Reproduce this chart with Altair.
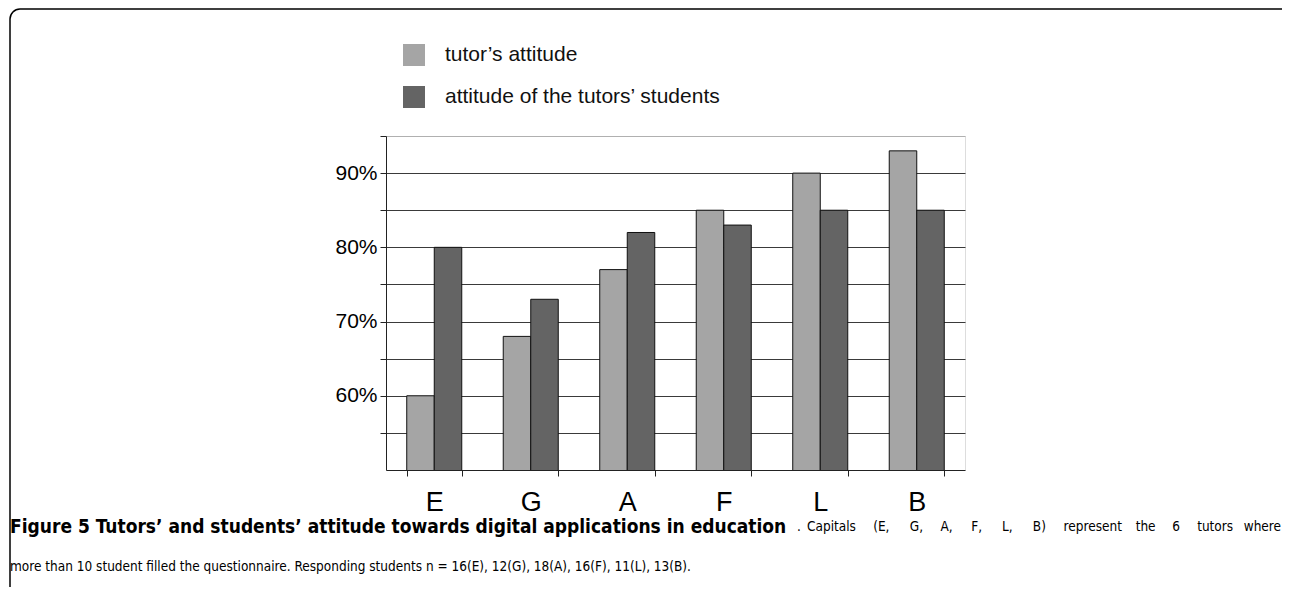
import altair as alt
import pandas as pd

tutors = ["E", "G", "A", "F", "L", "B"]
series_names = ["tutor\u2019s attitude", "attitude of the tutors\u2019 students"]
tutor_values = [60, 68, 77, 85, 90, 93]
student_values = [80, 73, 82, 83, 85, 85]
y_ticks = [55, 60, 65, 70, 75, 80, 85, 90, 95]

caption_bold = "Figure 5 Tutors\u2019 and students\u2019 attitude towards digital applications in education"
caption_rest1 = "Capitals (E, G, A, F, L, B) represent the 6 tutors where"
caption_line2 = "more than 10 student filled the questionnaire. Responding students n = 16(E), 12(G), 18(A), 16(F), 11(L), 13(B)."

rows = []
for t, a, b in zip(tutors, tutor_values, student_values):
    rows.append({"tutor": t, "series": series_names[0], "value": a})
    rows.append({"tutor": t, "series": series_names[1], "value": b})
df = pd.DataFrame(rows)

FONT = "Liberation Sans"
CAP_FONT = "Liberation Sans Narrow, DejaVu Sans Condensed, Open Sans"
REG_SIZE = 13.5
CHAR_W = 5.9  # estimated advance per char at REG_SIZE

# justify the regular part of caption line 1 between x0 and x1 (plot coords)
x0, x1 = 421, 895
words = caption_rest1.split(" ")
widths = [len(w) * CHAR_W for w in words]
gap = (x1 - x0 - sum(widths)) / (len(words) - 1)
word_rows = []
pos = x0
for w, wd in zip(words[:-1], widths[:-1]):
    word_rows.append({"w": w, "px": pos})
    pos += wd + gap
last_word = words[-1]

bars = alt.Chart(df).mark_bar(stroke="#111", strokeWidth=1, clip=True).encode(
    x=alt.X("tutor:N", sort=tutors, title=None,
            scale=alt.Scale(paddingInner=0.43, paddingOuter=0.215),
            axis=alt.Axis(labelAngle=0, labelFontSize=27, labelFont=FONT, labelColor="#000",
                          tickBand="extent", tickSize=6, tickColor="#222", domainColor="#222",
                          labelPadding=13, grid=False)),
    xOffset=alt.XOffset("series:N", sort=series_names),
    y=alt.Y("value:Q", title=None,
            scale=alt.Scale(domain=[50, 95], nice=False, zero=False),
            axis=alt.Axis(values=y_ticks,
                          labelExpr="datum.value % 10 == 0 ? datum.value + '%' : ''",
                          labelFontSize=21, labelFont=FONT, labelColor="#000",
                          tickSize=6, tickColor="#222", domainColor="#222", labelPadding=3,
                          grid=True, gridColor={"condition": {"test": "datum.value == 95", "value": "#b0b0b0"}, "value": "#3a3a3a"},
                          gridWidth=1.2)),
    color=alt.Color("series:N", sort=series_names,
                    scale=alt.Scale(domain=series_names, range=["#a5a5a5", "#646464"]),
                    legend=alt.Legend(title=None, orient="none", legendX=17, legendY=-92,
                                      symbolType="square", symbolSize=484, symbolStrokeWidth=0,
                                      labelFontSize=21, labelFont=FONT, labelColor="#111",
                                      labelOffset=20, rowPadding=20, labelLimit=600)),
)

one = alt.Data(values=[{"k": 1}])

frame = alt.Chart(one).mark_rect(fill=None, stroke="#000", strokeWidth=1.5, cornerRadius=10).encode(
    x=alt.value(-376), x2=alt.value(1100), y=alt.value(-127), y2=alt.value(700)
)

cap1 = alt.Chart(one).mark_text(align="left", baseline="middle", font=CAP_FONT, fontSize=19,
                                fontWeight="bold", color="#000").encode(
    x=alt.value(-376), y=alt.value(391), text=alt.value(caption_bold))
dot = alt.Chart(one).mark_text(align="left", baseline="middle", font=CAP_FONT, fontSize=REG_SIZE,
                               color="#000").encode(
    x=alt.value(411), y=alt.value(391), text=alt.value("."))
cap2 = alt.Chart(alt.Data(values=word_rows)).mark_text(
    align="left", baseline="middle", font=CAP_FONT, fontSize=REG_SIZE, color="#000").encode(
    x=alt.X("px:Q", scale=None), y=alt.value(391), text="w:N")
cap2b = alt.Chart(one).mark_text(align="right", baseline="middle", font=CAP_FONT, fontSize=REG_SIZE,
                                 color="#000").encode(
    x=alt.value(x1), y=alt.value(391), text=alt.value(last_word))
cap3 = alt.Chart(one).mark_text(align="left", baseline="middle", font=CAP_FONT, fontSize=REG_SIZE,
                                color="#000").encode(
    x=alt.value(-376), y=alt.value(431), text=alt.value(caption_line2))

chart = alt.layer(bars, frame, cap1, dot, cap2, cap2b, cap3).properties(
    width=579, height=334,
    autosize=alt.AutoSizeParams(type="none"),
    padding={"left": 378, "top": 128, "right": 317, "bottom": 117},
).resolve_scale(x="independent").configure_view(stroke="#b0b0b0", strokeWidth=1.5).configure(background="white")

chart.save("out.html", embed_options={"renderer": "svg", "actions": False})
